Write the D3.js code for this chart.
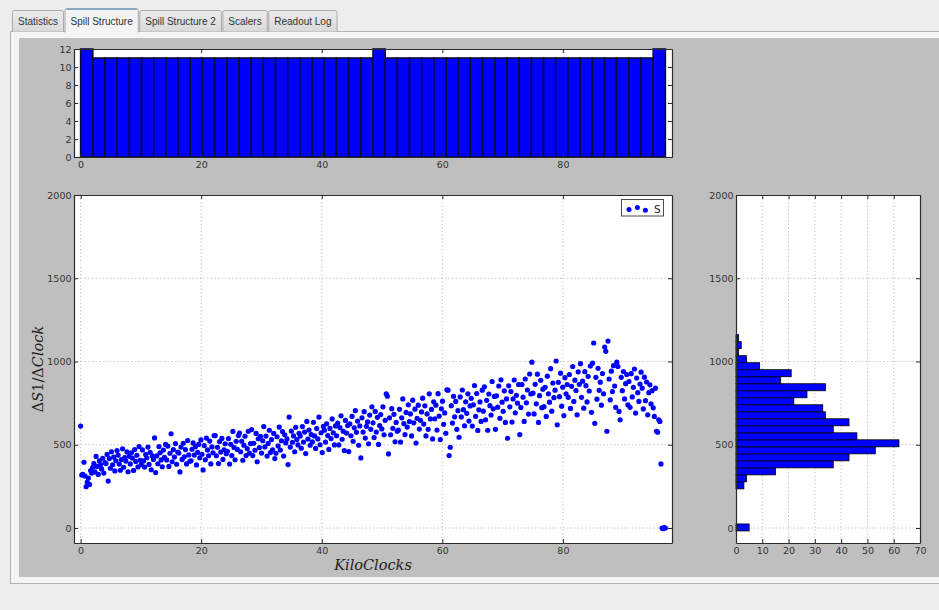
<!DOCTYPE html>
<html>
<head>
<meta charset="utf-8">
<title>Spill Structure</title>
<script src="https://cdn.jsdelivr.net/npm/d3@7"></script>
<style>
  html, body { margin: 0; padding: 0; background: #ededed; }
  svg { display: block; }
</style>
</head>
<body>
<svg id="ui" width="939" height="610"></svg>
<script>
// ---------------- data ----------------
const tabNames = ["Statistics", "Spill Structure", "Spill Structure 2", "Scalers", "Readout Log"];
const activeTab = 1;

// readout window in kiloclocks; samples are evenly spaced across it
const kiloClockSpan = [0, 97];

// ΔS1/ΔClock per sample, in time order
const spillRate = [
  612, 318, 322, 395, 312, 248, 276, 300, 262, 345, 330, 365,
  387, 337, 430, 370, 322, 403, 378, 355, 419, 330, 393,
  387, 442, 282, 417, 359, 458, 380, 426, 343, 404, 465,
  438, 384, 347, 411, 476, 365, 423, 402, 457, 338, 431,
  385, 452, 420, 346, 471, 400, 437, 367, 489, 407, 381,
  469, 403, 366, 441, 422, 486, 382, 455, 350, 433, 412,
  541, 333, 433, 386, 489, 452, 409, 368, 468, 424, 502,
  409, 492, 370, 449, 566, 398, 471, 426, 507, 383, 456,
  450, 337, 486, 412, 509, 428, 471, 385, 525, 439, 401,
  404, 473, 511, 438, 488, 379, 454, 502, 422, 529, 443,
  349, 495, 410, 540, 469, 434, 522, 385, 487, 452, 555,
  555, 434, 485, 387, 519, 456, 538, 412, 470, 506, 446,
  461, 537, 384, 503, 435, 580, 484, 410, 521, 472, 555,
  570, 458, 521, 407, 497, 551, 435, 477, 581, 450, 507,
  591, 435, 509, 467, 568, 398, 536, 483, 550, 450, 524,
  609, 487, 552, 432, 508, 587, 453, 531, 470, 568, 417,
  449, 548, 493, 606, 468, 524, 579, 432, 560, 511, 535,
  381, 666, 486, 582, 515, 553, 458, 605, 531, 499, 569,
  552, 479, 609, 516, 576, 447, 640, 534, 588, 497, 561,
  517, 635, 553, 478, 597, 535, 666, 500, 572, 453, 610,
  587, 516, 626, 555, 472, 598, 537, 655, 572, 499, 613,
  554, 630, 499, 603, 674, 533, 581, 465, 646, 570, 615,
  459, 625, 554, 670, 521, 602, 705, 575, 642, 497, 613,
  421, 662, 576, 699, 540, 611, 637, 506, 678, 593, 728,
  632, 543, 700, 576, 665, 502, 615, 681, 595, 728, 560, 647,
  806, 792, 445, 662, 560, 717, 599, 683, 518, 634, 581,
  588, 713, 516, 662, 775, 627, 561, 694, 606, 740, 639,
  685, 553, 768, 632, 714, 510, 659, 738, 594, 647, 697,
  780, 624, 734, 553, 685, 593, 806, 655, 712, 535, 758,
  656, 738, 588, 807, 672, 531, 716, 762, 623, 691, 569,
  830, 828, 435, 485, 735, 630, 791, 668, 760, 593, 705,
  545, 787, 667, 829, 711, 614, 758, 689, 806, 642, 733,
  779, 612, 740, 856, 671, 808, 586, 710, 757, 640, 828,
  702, 848, 650, 767, 587, 805, 735, 678, 880, 716, 790,
  593, 794, 726, 853, 659, 890, 756, 701, 824, 634, 775,
  539, 854, 728, 820, 636, 775, 889, 692, 797, 750, 862,
  561, 724, 862, 786, 640, 895, 752, 829, 684, 925, 805,
  996, 810, 685, 863, 746, 924, 634, 795, 887, 723, 834,
  729, 845, 670, 912, 806, 756, 957, 702, 871, 783, 828,
  1003, 620, 875, 789, 930, 732, 846, 675, 903, 806, 862,
  785, 922, 718, 851, 970, 760, 888, 826, 680, 938, 863,
  987, 785, 882, 720, 939, 855, 757, 911, 823, 973, 695,
  990, 1111, 629, 905, 774, 959, 827, 876, 738, 928, 806,
  1087, 1061, 581, 1123, 895, 769, 942, 820, 975, 853, 725,
  996, 970, 700, 650, 905, 825, 940, 775, 867, 922, 740,
  880, 725, 927, 787, 845, 955, 690, 901, 813, 760, 865,
  936, 840, 715, 906, 765, 877, 680, 813, 860, 745, 825,
  722, 670, 840, 581, 575, 650, 640, 385, 0, -4, 2, 0
];

// samples per time bin (top histogram), bins spanning kiloClockSpan
const clockBinCounts = [
  12, 11, 11, 11, 11, 11, 11, 11, 11, 11, 11, 11,
  11, 11, 11, 11, 11, 11, 11, 11, 11, 11, 11, 11,
  12, 11, 11, 11, 11, 11, 11, 11, 11, 11, 11, 11,
  11, 11, 11, 11, 11, 11, 11, 11, 11, 11, 11, 12
];

// samples per rate bin (side histogram), bins spanning rateBinSpan
const rateBinSpan = [-17.6, 1161.2];
const rateBinCounts = [
  5, 0, 0, 0, 0, 0, 3, 4, 15, 37, 43, 53, 62, 46,
  37, 43, 34, 33, 22, 27, 34, 17, 21, 9, 4, 1, 2, 1
];

// axis ticks
const clockTicks = [0, 20, 40, 60, 80];
const clockCountTicks = [0, 2, 4, 6, 8, 10, 12];
const rateTicks = [0, 500, 1000, 1500, 2000];
const rateCountTicks = [0, 10, 20, 30, 40, 50, 60, 70];

const legendLabel = "S";

// ---------------- page ----------------
const svg = d3.select("#ui");
const W = 939, H = 610;
const BLUE = "#0000ff";
const INK = "#2b2b2b";
const TICK_FONT = "'DejaVu Sans', sans-serif";

svg.append("rect").attr("width", W).attr("height", H).attr("fill", "#ededed");

// tab pane
svg.append("rect")
  .attr("x", 10.5).attr("y", 31.5).attr("width", W).attr("height", 552)
  .attr("fill", "#f4f4f4").attr("stroke", "#b3b3b3");

// tabs
const tabG = svg.append("g").attr("font-family", "'Liberation Sans', sans-serif")
  .attr("font-size", 10).attr("fill", "#2e3436");
let tx = 12.5;
const tabBoxes = tabNames.map((name, i) => {
  const t = tabG.append("text").text(name).attr("x", -1000).attr("y", -1000);
  const w = t.node().getComputedTextLength();
  t.remove();
  const box = { name, x: tx, w: w + 11, active: i === activeTab };
  tx += box.w + 1.5;
  return box;
});
const grad = svg.append("defs").append("linearGradient")
  .attr("id", "tabGrad").attr("x1", 0).attr("x2", 0).attr("y1", 0).attr("y2", 1);
grad.append("stop").attr("offset", "0%").attr("stop-color", "#ececec");
grad.append("stop").attr("offset", "100%").attr("stop-color", "#d9d9d9");
tabBoxes.forEach(b => {
  const top = b.active ? 8.5 : 10.5;
  const bottom = b.active ? 32.5 : 31.5;
  tabG.append("path")
    .attr("d", `M${b.x},${bottom} V${top + 2} Q${b.x},${top} ${b.x + 2},${top} H${b.x + b.w - 2} Q${b.x + b.w},${top} ${b.x + b.w},${top + 2} V${bottom}`)
    .attr("fill", b.active ? "#f4f4f4" : "url(#tabGrad)")
    .attr("stroke", "#a9a9a9");
  if (b.active) {
    tabG.append("line")
      .attr("x1", b.x + 1.5).attr("x2", b.x + b.w - 1.5)
      .attr("y1", top + 0.8).attr("y2", top + 0.8)
      .attr("stroke", "#7fa7d0").attr("stroke-width", 1.4);
  }
  tabG.append("text").text(b.name)
    .attr("x", b.x + b.w / 2).attr("y", 24.5)
    .attr("text-anchor", "middle");
});

// figure canvas
svg.append("rect")
  .attr("x", 19).attr("y", 38).attr("width", W - 19).attr("height", 539)
  .attr("fill", "#bfbfbf");

// ---------------- axes boxes ----------------
const topBox  = { l: 74,  t: 49,  r: 672, b: 157 };
const mainBox = { l: 74,  t: 195, r: 672, b: 543 };
const sideBox = { l: 736, t: 195, r: 920, b: 543 };

const xClock = d3.scaleLinear().domain([-1.1, 98.1]).range([mainBox.l, mainBox.r]);
const yCount = d3.scaleLinear().domain([0, 12]).range([topBox.b, topBox.t]);
const yRate  = d3.scaleLinear().domain([-90, 2000]).range([mainBox.b, mainBox.t]);
const xCount = d3.scaleLinear().domain([0, 70]).range([sideBox.l, sideBox.r]);
const fmt = d3.format("d");

function background(box) {
  svg.append("rect")
    .attr("x", box.l).attr("y", box.t)
    .attr("width", box.r - box.l).attr("height", box.b - box.t)
    .attr("fill", "#ffffff");
}

function grid(box, xs, xt, ys, yt) {
  const g = svg.append("g")
    .attr("stroke", "#b5b5b5").attr("stroke-width", 0.9)
    .attr("stroke-dasharray", "1.2,2.4");
  g.selectAll(null).data(xt).join("line")
    .attr("x1", d => xs(d)).attr("x2", d => xs(d))
    .attr("y1", box.t).attr("y2", box.b);
  g.selectAll(null).data(yt).join("line")
    .attr("x1", box.l).attr("x2", box.r)
    .attr("y1", d => ys(d)).attr("y2", d => ys(d));
}

function axes(box, xs, xt, ys, yt) {
  const style = sel => {
    sel.attr("font-family", TICK_FONT).attr("font-size", 9.5);
    sel.selectAll("path.domain").attr("stroke", INK).attr("stroke-width", 1.2);
    sel.selectAll(".tick line").attr("stroke", INK).attr("stroke-width", 1);
    sel.selectAll(".tick text").attr("fill", "#333");
  };
  svg.append("g").attr("transform", `translate(0,${box.b})`)
    .call(d3.axisBottom(xs).tickValues(xt).tickFormat(fmt).tickSizeInner(-4).tickSizeOuter(0).tickPadding(4))
    .call(style);
  svg.append("g").attr("transform", `translate(0,${box.t})`)
    .call(d3.axisTop(xs).tickValues(xt).tickSizeInner(-4).tickSizeOuter(0).tickFormat(""))
    .call(style);
  svg.append("g").attr("transform", `translate(${box.l},0)`)
    .call(d3.axisLeft(ys).tickValues(yt).tickFormat(fmt).tickSizeInner(-4).tickSizeOuter(0).tickPadding(2.5))
    .call(style);
  svg.append("g").attr("transform", `translate(${box.r},0)`)
    .call(d3.axisRight(ys).tickValues(yt).tickSizeInner(-4).tickSizeOuter(0).tickFormat(""))
    .call(style);
}

// ---------------- top: samples per time bin ----------------
background(topBox);
grid(topBox, xClock, clockTicks, yCount, clockCountTicks);
const clockBinW = (kiloClockSpan[1] - kiloClockSpan[0]) / clockBinCounts.length;
svg.append("g").selectAll("rect")
  .data(clockBinCounts.map((c, i) => ({ x0: kiloClockSpan[0] + i * clockBinW, x1: kiloClockSpan[0] + (i + 1) * clockBinW, c })))
  .join("rect")
  .attr("x", d => xClock(d.x0))
  .attr("width", d => xClock(d.x1) - xClock(d.x0))
  .attr("y", d => yCount(d.c))
  .attr("height", d => yCount(0) - yCount(d.c))
  .attr("fill", BLUE).attr("stroke", "#0a0a3a").attr("stroke-width", 1.6);
axes(topBox, xClock, clockTicks, yCount, clockCountTicks);

// ---------------- main: rate vs time ----------------
background(mainBox);
grid(mainBox, xClock, clockTicks, yRate, rateTicks);
const step = (kiloClockSpan[1] - kiloClockSpan[0]) / (spillRate.length - 1);
const samples = spillRate.map((v, i) => ({ t: kiloClockSpan[0] + i * step, v }));
svg.append("g").selectAll("circle").data(samples).join("circle")
  .attr("cx", d => xClock(d.t)).attr("cy", d => yRate(d.v))
  .attr("r", 2.6).attr("fill", BLUE);
axes(mainBox, xClock, clockTicks, yRate, rateTicks);

// legend
const lg = svg.append("g");
lg.append("rect").attr("x", 621.5).attr("y", 199.5).attr("width", 42).attr("height", 16.5)
  .attr("fill", "#fff").attr("stroke", "#4a4a4a").attr("stroke-width", 1);
[[629, 209.6], [637.4, 207.6], [645.4, 210.2]].forEach(([x, y]) =>
  lg.append("circle").attr("cx", x).attr("cy", y).attr("r", 2.5).attr("fill", BLUE));
lg.append("text").text(legendLabel).attr("x", 654).attr("y", 212.5)
  .attr("font-family", TICK_FONT).attr("font-size", 10.5).attr("fill", "#222");

// axis titles (math-style)
const yTitle = svg.append("text")
  .attr("transform", `translate(43,${(mainBox.t + mainBox.b) / 2}) rotate(-90)`)
  .attr("text-anchor", "middle")
  .attr("font-family", "'DejaVu Serif', serif").attr("font-size", 14.5).attr("fill", "#222");
yTitle.append("tspan").text("Δ");
yTitle.append("tspan").text("S").attr("font-style", "italic");
yTitle.append("tspan").text("1/Δ");
yTitle.append("tspan").text("Clock").attr("font-style", "italic");

svg.append("text").text("KiloClocks")
  .attr("x", (mainBox.l + mainBox.r) / 2).attr("y", 570)
  .attr("text-anchor", "middle")
  .attr("font-family", "'DejaVu Serif', serif").attr("font-style", "italic")
  .attr("font-size", 14.5).attr("fill", "#222");

// ---------------- side: samples per rate bin ----------------
background(sideBox);
grid(sideBox, xCount, rateCountTicks.slice(1, -1), yRate, rateTicks.slice(0, -1));
const rateBinW = (rateBinSpan[1] - rateBinSpan[0]) / rateBinCounts.length;
svg.append("g").selectAll("rect")
  .data(rateBinCounts.map((c, i) => ({ y0: rateBinSpan[0] + i * rateBinW, y1: rateBinSpan[0] + (i + 1) * rateBinW, c }))
    .filter(d => d.c > 0))
  .join("rect")
  .attr("x", xCount(0)).attr("width", d => xCount(d.c) - xCount(0))
  .attr("y", d => yRate(d.y1)).attr("height", d => yRate(d.y0) - yRate(d.y1))
  .attr("fill", BLUE).attr("stroke", "#000").attr("stroke-width", 0.8);
axes(sideBox, xCount, rateCountTicks, yRate, rateTicks);
</script>
</body>
</html>
